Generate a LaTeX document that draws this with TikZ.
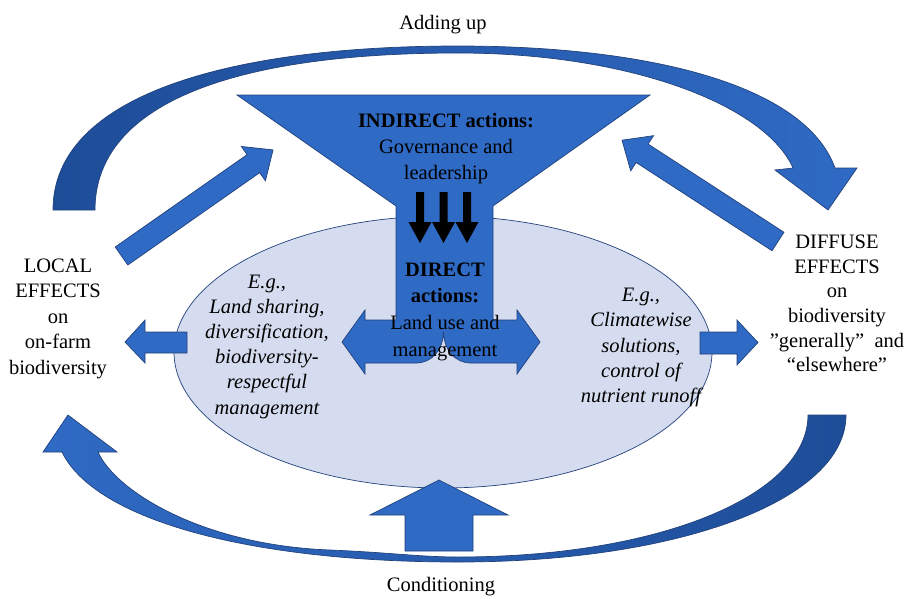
\documentclass[tikz,border=0pt]{standalone}
\usepackage{fontspec}
\setmainfont{Liberation Serif}
\definecolor{mainblue}{HTML}{2F6AC4}
\definecolor{edgeblue}{HTML}{23427C}
\definecolor{darkblue}{HTML}{1E4D98}
\definecolor{paleblue}{HTML}{D5DCEF}
\tikzset{
  blockarrow/.style={fill=mainblue, draw=edgeblue, line width=0.7pt, line join=miter},
  curvearrow/.style={draw=edgeblue, line width=0.7pt},
  txt/.style={align=center, inner sep=0pt, font=\fontsize{20.5}{25.5}\selectfont},
  itxt/.style={txt, font=\fontsize{20.5}{25.2}\selectfont\itshape},
}
\newcommand\blkarrow[6]{%
  \begin{scope}[shift={(#1,#2)},rotate=#3]
    \filldraw[blockarrow] (0,-#5) -- ({#4-24},-#5) -- ({#4-24},-#6) -- (#4,0)
      -- ({#4-24},#6) -- ({#4-24},#5) -- (0,#5) -- cycle;
  \end{scope}}
\newcommand\toparrowpath{(53,210) -- (95,210) .. controls (95,105) and (230,53) .. (458,53)
  .. controls (630,53) and (765,105) .. (793,168) -- (775,170) -- (828,210)
  -- (857,168) -- (835,168) .. controls (805,85) and (650,46) .. (458,46)
  .. controls (230,46) and (53,95) .. (53,210) -- cycle}
\newcommand\botarrowpath{(846,415) .. controls (846,500) and (680,562) .. (458,562)
  .. controls (250,562) and (95,520) .. (62,452) -- (43,452) -- (68,415)
  -- (117,452) -- (98,452) .. controls (115,490) and (200,545) .. (330,550)
  .. controls (390,552.5) and (420,557) .. (458,557)
  .. controls (660,557) and (808,495) .. (808,415) -- cycle}
\begin{document}
\begin{tikzpicture}[x=1pt,y=-1pt]
\useasboundingbox (0,0) rectangle (916,598);
\fill[white] (0,0) rectangle (916,598);

% top curved arrow (Adding up)
\shade[left color=darkblue, right color=mainblue] \toparrowpath;
\draw[curvearrow] \toparrowpath;

% bottom curved arrow (Conditioning)
\shade[left color=mainblue, right color=darkblue] \botarrowpath;
\draw[curvearrow] \botarrowpath;

% ellipse
\filldraw[fill=paleblue, draw=edgeblue, line width=0.7pt] (443,352) ellipse [x radius=269, y radius=136];

% funnel with direct-action double arrow
\filldraw[blockarrow]
  (237,95) -- (650,95) -- (493,206) -- (493,320) -- (517,320) -- (517,310)
  -- (540,342) -- (517,374) -- (517,363) -- (471,363)
  .. controls (455,363) and (444,350) .. (443.5,332)
  .. controls (443,350) and (432,363) .. (416,363)
  -- (365,363) -- (365,374) -- (342,342) -- (365,310) -- (365,320)
  -- (396,320) -- (396,206) -- cycle;

% black arrows
\foreach \ax in {420,443.5,467}{
  \fill[black] (\ax-4,192) -- (\ax-4,222) -- (\ax-11.5,222) -- (\ax,243)
    -- (\ax+11.5,222) -- (\ax+4,222) -- (\ax+4,192) -- cycle;
}

% small horizontal arrows
\filldraw[blockarrow] (187,332) -- (145,332) -- (145,320) -- (125,342)
  -- (145,363) -- (145,353) -- (187,353) -- cycle;
\filldraw[blockarrow] (700,332) -- (737,332) -- (737,320) -- (758,342.5)
  -- (737,365) -- (737,354) -- (700,354) -- cycle;

% up arrow (conditioning)
\filldraw[blockarrow] (405,551) -- (405,515) -- (370,515) -- (439,480)
  -- (508,515) -- (473,515) -- (473,551) -- cycle;

% diagonal arrows
\blkarrow{121.5}{256}{35}{185}{11}{21}
\blkarrow{778}{241.5}{147}{186}{11}{21}

% texts
\node[txt] (addup) at (443,25) {Adding up};
\node[txt] (cond) at (441,587) {Conditioning};
\node[txt] (local) at (58,318.5) {LOCAL\\EFFECTS\\on\\on-farm\\biodiversity};
\node[txt, font=\fontsize{20.5}{24.7}\selectfont] (diffuse) at (837,303.5)
  {DIFFUSE\\EFFECTS\\on\\biodiversity\\”generally”\ \ and\\“elsewhere”};
\node[txt, font=\fontsize{20.5}{26.3}\selectfont] (indirect) at (446,148.5)
  {\textbf{INDIRECT actions:}\\Governance and\\leadership};
\node[txt, font=\fontsize{20.5}{26.7}\selectfont] (direct) at (445,311.5)
  {\textbf{DIRECT}\\\textbf{actions:}\\Land use and\\management};
\node[itxt] (leftex) at (267,346.5)
  {E.g.,\\Land sharing,\\diversification,\\biodiversity-\\respectful\\management};
\node[itxt] (rightex) at (641,347.5)
  {E.g.,\\Climatewise\\solutions,\\control of\\nutrient runoff};
\end{tikzpicture}
\end{document}
